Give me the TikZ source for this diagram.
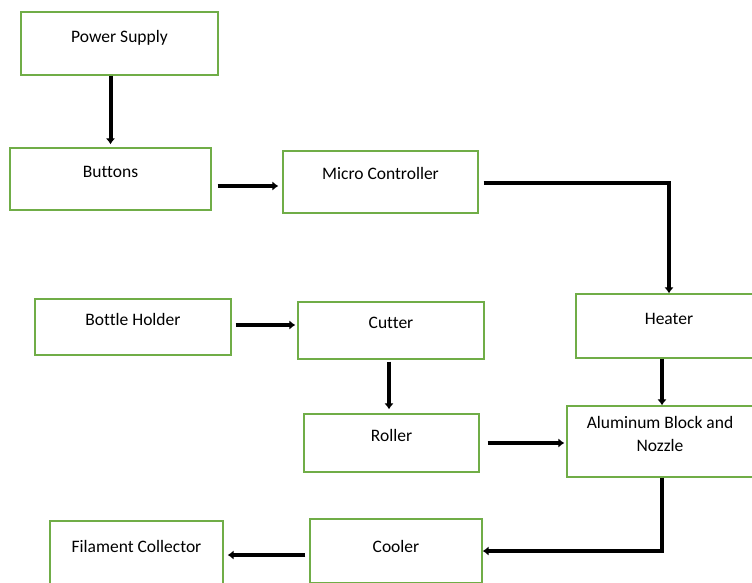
\documentclass[tikz,border=0pt]{standalone}
\usepackage{fontspec}
\setmainfont[Ligatures=NoCommon]{Carlito}
\usepackage{xcolor}
\usetikzlibrary{arrows.meta}
\usetikzlibrary{positioning}
\definecolor{boxgreen}{HTML}{70AD47}

\begin{document}
\begin{tikzpicture}[x=1pt, y=-1pt,
    blk/.style={draw=boxgreen, line width=1.4pt, inner sep=0pt, align=center,
      font=\fontsize{17.5}{23}\selectfont},
    arr/.style={line width=4pt, -{Latex[length=6pt,width=9.5pt]}}]

  \useasboundingbox (0,0) rectangle (752,583);
  \clip (0,0) rectangle (752,583);

  % blocks
  \node[blk, minimum width=197pt, text height=30.7pt, text depth=32.3pt] (pwr) at (119.5,43.5) {Power Supply};
  \node[blk, minimum width=201pt, text height=29pt, text depth=33pt] (btn) at (110.5,179) {Buttons};
  \node[blk, minimum width=195pt, text height=28pt, text depth=34pt] (mcu) at (380.5,182) {Micro Controller};
  \node[blk, minimum width=186pt, text height=30pt, text depth=34pt] (heat) at (669,326) {Heater};
  \node[blk, minimum width=196pt, text height=26pt, text depth=30pt] (bot) at (133,327) {Bottle Holder};
  \node[blk, minimum width=186pt, text height=26pt, text depth=31pt] (cut) at (391,330.5) {Cutter};
  \node[blk, minimum width=175pt, text height=27pt, text depth=31pt] (rol) at (391.5,443) {Roller};
  \node[blk, minimum width=186pt, text height=45pt, text depth=26pt] (alu) at (660,441.5) {Aluminum Block and\\Nozzle};
  \node[blk, minimum width=172pt, text height=33pt, text depth=31pt] (cool) at (396,551) {Cooler};
  \node[blk, minimum width=173pt, text height=31pt, text depth=32pt] (fil) at (136.5,552.5) {Filament Collector};

  % connectors
  \draw[arr, shorten >=3pt] (pwr.south -| btn.north) -- (btn.north);
  \draw[arr, shorten >=4pt] ([xshift=6pt,yshift=-7pt]btn.east) -- ([yshift=-7pt]btn.east -| mcu.west);
  \draw[arr] ([xshift=5pt,yshift=-1pt]mcu.east) -| (heat.north);
  \draw[arr, shorten >=2pt] ([xshift=4pt,yshift=2pt]bot.east) -- ([yshift=2pt]bot.east -| cut.west);
  \draw[arr, shorten >=4pt] ([xshift=-2pt,yshift=-2pt]cut.south) -- ([xshift=-2pt]cut.south |- rol.north);
  \draw[arr, shorten >=2pt] ([xshift=8pt]rol.east) -- (rol.east -| alu.west);
  \draw[arr] ([xshift=2pt]heat.south -| alu.north) -- ([xshift=2pt]alu.north);
  \draw[arr] ([xshift=2pt]alu.south) |- (cool.east);
  \draw[arr, shorten >=4pt] ([xshift=-4pt,yshift=-4pt]cool.west) -- ([yshift=-4pt]cool.west -| fil.east);

\end{tikzpicture}
\end{document}
